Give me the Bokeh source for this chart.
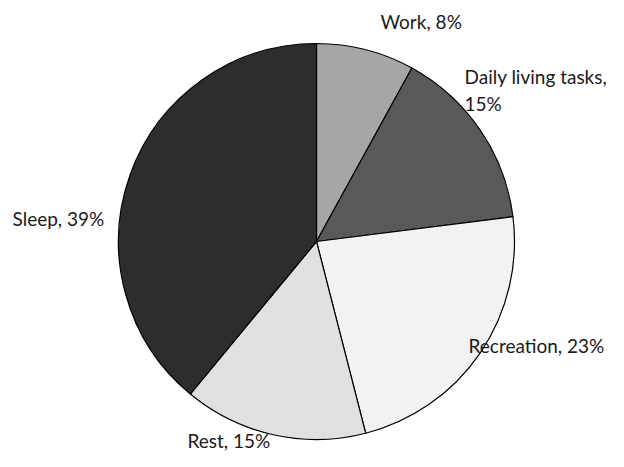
import math
from bokeh.plotting import figure
from bokeh.models import Range1d, ColumnDataSource
from bokeh.core.properties import value
from bokeh.embed import file_html
from bokeh.resources import INLINE

# ---- data ----
categories = ["Work", "Daily living tasks", "Recreation", "Rest", "Sleep"]
percents = [8, 15, 23, 15, 39]
colors = ["#a6a6a6", "#595959", "#f2f2f2", "#e0e0e0", "#2d2d2d"]

# ---- layout (picture pixel coordinates) ----
W, H = 608, 451
cx, cy_pic, radius = 316, 241, 198
cy = H - cy_pic

p = figure(width=W, height=H, output_backend="svg", toolbar_location=None,
           x_range=Range1d(0, W), y_range=Range1d(0, H), min_border=0)
p.axis.visible = False
p.grid.visible = False
p.outline_line_color = None
p.background_fill_color = "white"
p.border_fill_color = "white"

total = sum(percents)
starts, ends = [], []
cum = 0.0
for v in percents:
    starts.append(math.pi / 2 - 2 * math.pi * cum / total)
    cum += v
    ends.append(math.pi / 2 - 2 * math.pi * cum / total)

src = ColumnDataSource(dict(start=starts, end=ends, color=colors,
                            x=[cx] * len(percents), y=[cy] * len(percents)))
p.wedge(x="x", y="y", radius=radius, start_angle="start", end_angle="end",
        direction="clock", fill_color="color", line_color="black", line_width=1.2,
        source=src)

# labels: left x, center y (picture pixels)
label_pos = [(380, 21), (464, 76), (468, 345), (187, 440), (12, 218)]
lx, ly, lt = [], [], []
for cat, pct, (x, y) in zip(categories, percents, label_pos):
    if cat == "Daily living tasks":
        lx += [x, x]
        ly += [H - y, H - (y + 27)]
        lt += [f"{cat},", f"{pct}%"]
    else:
        lx.append(x)
        ly.append(H - y)
        lt.append(f"{cat}, {pct}%")

p.text(x=lx, y=ly, text=lt, text_font=value("Lato"), text_font_size="19px",
       text_align="left", text_baseline="middle", text_color="#1a1a1a")

open("out.html", "w").write(file_html(p, INLINE))
